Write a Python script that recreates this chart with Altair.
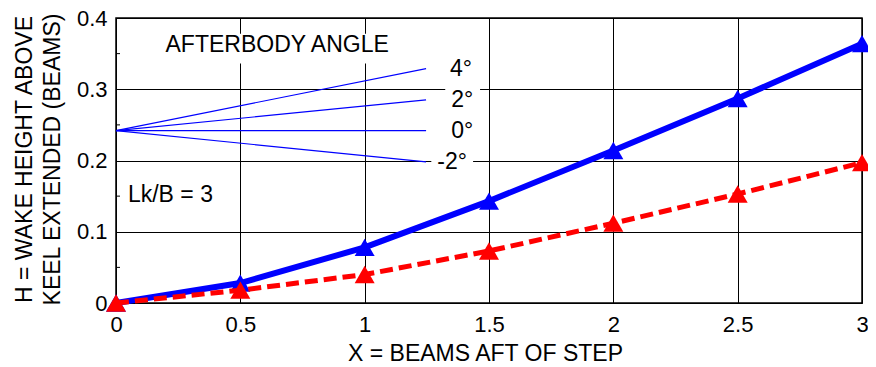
import altair as alt
import pandas as pd

# ---- data ----
x_beams = [0, 0.5, 1, 1.5, 2, 2.5, 3]
h_blue = [0.0, 0.028, 0.078, 0.143, 0.214, 0.287, 0.364]
h_red = [0.0, 0.018, 0.040, 0.073, 0.112, 0.153, 0.197]

x_ticks = [0, 0.5, 1, 1.5, 2, 2.5, 3]
y_ticks = [0, 0.1, 0.2, 0.3, 0.4]
y_minor = [0.05, 0.15, 0.25, 0.35]

# afterbody-angle inset
angle_labels = ["4°", "2°", "0°", "-2°"]
angle_line_x = [0.0, 1.247]
angle_line_y0 = 0.242
angle_line_y1 = [0.329, 0.285, 0.242, 0.198]
angle_label_x = [1.343, 1.348, 1.348, 1.292]

note_text = ["AFTERBODY ANGLE", "Lk/B = 3"]
note_x = [0.648, 0.048]
note_y = [0.3615, 0.151]
note_align = ["center", "left"]

# white label backgrounds (interrupt grid lines like the original)
box_x0 = [0.22, 1.324, 1.268]
box_x1 = [1.08, 1.464, 1.436]
box_y0 = [0.336, 0.272, 0.186]
box_y1 = [0.378, 0.308, 0.212]

FONT = "Liberation Sans"

series = pd.DataFrame({"x": x_beams, "blue": h_blue, "red": h_red})
inset_rows = []
for lab, y1 in zip(angle_labels, angle_line_y1):
    inset_rows.append({"angle": lab, "x": angle_line_x[0], "y": angle_line_y0})
    inset_rows.append({"angle": lab, "x": angle_line_x[1], "y": y1})
inset = pd.DataFrame(inset_rows)
angle_lab_df = pd.DataFrame({"label": angle_labels, "x": angle_label_x, "y": angle_line_y1})
boxes = pd.DataFrame({"x0": box_x0, "x1": box_x1, "y0": box_y0, "y1": box_y1})
minor = pd.DataFrame({"y": y_minor})

xs = alt.Scale(domain=[0, 3], nice=False, zero=False)
ys = alt.Scale(domain=[0, 0.4], nice=False, zero=False)

x_axis = alt.Axis(
    values=x_ticks, format="~g", grid=True, gridColor="black", gridOpacity=1, gridWidth=1,
    ticks=False, domain=False, labelFontSize=22, labelFont=FONT, labelColor="black",
    labelPadding=11, labelFlush=False, labelOverlap=False,
    title="X = BEAMS AFT OF STEP", titleFont=FONT, titleFontSize=23, titleFontWeight="normal",
    titleColor="black", titleX=369, titleY=57, titleAlign="center", titleBaseline="alphabetic",
)
y_axis = alt.Axis(
    values=y_ticks, format="~g", grid=True, gridColor="black", gridOpacity=1, gridWidth=1,
    ticks=False, domain=False, labelFontSize=22, labelFont=FONT, labelColor="black",
    labelPadding=9, labelFlush=False, labelOverlap=False,
    title=["H = WAKE HEIGHT ABOVE", "KEEL EXTENDED (BEAMS)"], titleFont=FONT, titleFontSize=23,
    titleFontWeight="normal", titleColor="black", titleAngle=270, titleX=-85, titleY=141,
    titleAlign="center", titleBaseline="alphabetic", titleLineHeight=28,
)

base_box = alt.Chart(boxes).mark_rect(color="white").encode(
    x=alt.X("x0:Q", scale=xs, axis=x_axis),
    x2="x1:Q",
    y=alt.Y("y0:Q", scale=ys, axis=y_axis),
    y2="y1:Q",
)

inset_lines = alt.Chart(inset).mark_line(color="#0000ff", strokeWidth=1.2).encode(
    x=alt.X("x:Q", scale=xs), y=alt.Y("y:Q", scale=ys), detail="angle:N"
)

angle_text = alt.Chart(angle_lab_df).mark_text(
    align="left", baseline="middle", fontSize=23, font=FONT, color="black"
).encode(x=alt.X("x:Q", scale=xs), y=alt.Y("y:Q", scale=ys), text="label:N")

notes = []
for t, nx, ny, al in zip(note_text, note_x, note_y, note_align):
    notes.append(
        alt.Chart(pd.DataFrame({"t": [t], "x": [nx], "y": [ny]})).mark_text(
            align=al, baseline="middle", fontSize=23, font=FONT, color="black"
        ).encode(x=alt.X("x:Q", scale=xs), y=alt.Y("y:Q", scale=ys), text="t:N")
    )

blue_line = alt.Chart(series).mark_line(color="#0000ff", strokeWidth=6).encode(
    x=alt.X("x:Q", scale=xs), y=alt.Y("blue:Q", scale=ys)
)
blue_pts = alt.Chart(series).mark_point(
    shape="triangle-up", filled=True, size=400, color="#0000ff", opacity=1
).encode(x=alt.X("x:Q", scale=xs), y=alt.Y("blue:Q", scale=ys))

red_line = alt.Chart(series).mark_line(color="#ff0000", strokeWidth=5, strokeDash=[13, 6]).encode(
    x=alt.X("x:Q", scale=xs), y=alt.Y("red:Q", scale=ys)
)
red_pts = alt.Chart(series).mark_point(
    shape="triangle-up", filled=True, size=400, color="#ff0000", opacity=1
).encode(x=alt.X("x:Q", scale=xs), y=alt.Y("red:Q", scale=ys))

minor_ticks = alt.Chart(minor).mark_rule(color="black", strokeWidth=1).encode(
    x=alt.value(0), x2=alt.value(4), y=alt.Y("y:Q", scale=ys)
)

chart = alt.layer(
    base_box, inset_lines, angle_text, *notes, blue_line, blue_pts, red_line, red_pts, minor_ticks
).properties(
    width=746, height=285,
    autosize=alt.AutoSizeParams(type="none"),
    padding={"left": 108, "top": 10, "right": 6, "bottom": 58},
    background="white",
).configure_view(stroke="black", strokeWidth=1.5)

chart.save("out.html", embed_options={"renderer": "svg", "actions": False})
